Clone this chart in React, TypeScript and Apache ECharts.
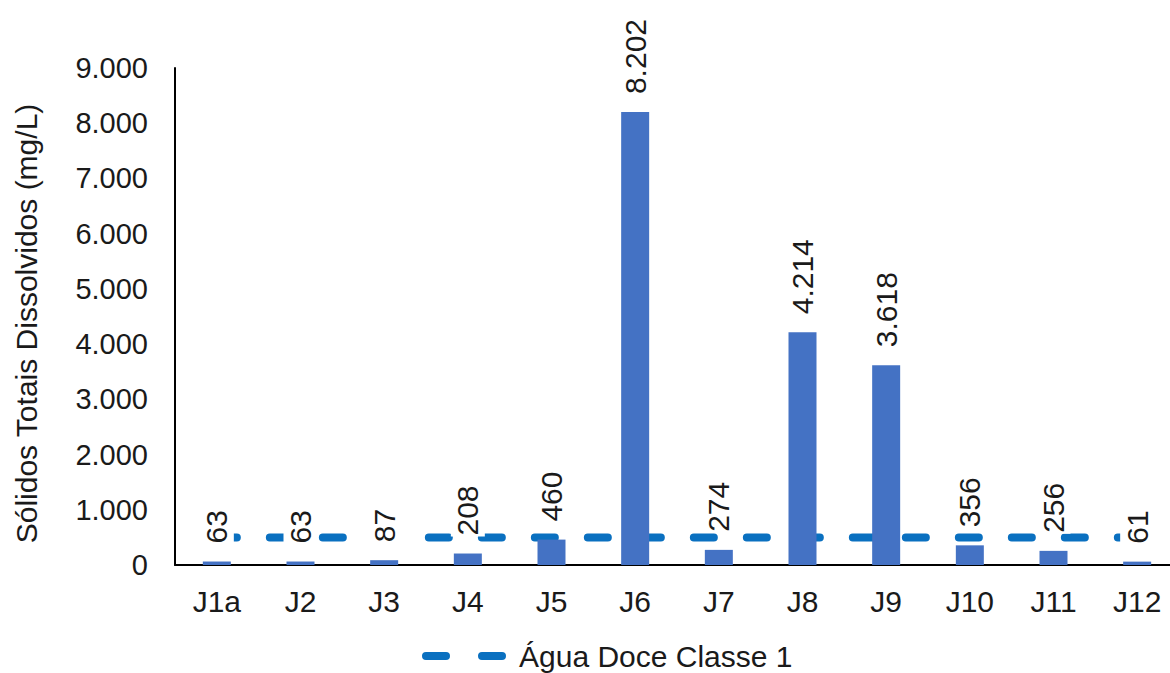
import React, { useEffect, useRef } from "react";
import * as echarts from "echarts";

const categories = ["J1a", "J2", "J3", "J4", "J5", "J6", "J7", "J8", "J9", "J10", "J11", "J12"];
const tdsValues = [63, 63, 87, 208, 460, 8202, 274, 4214, 3618, 356, 256, 61];
const limitValues = [500, 500, 500, 500, 500, 500, 500, 500, 500, 500, 500, 500];
const yMin = 0;
const yMax = 9000;
const yInterval = 1000;
const limitName = "Água Doce Classe 1";
const yTitle = "Sólidos Totais Dissolvidos (mg/L)";

const FONT = "'Liberation Sans', Arial, sans-serif";
const TEXT = "#1a1a1a";
const LIMIT_COLOR = "#0A70C0";

function fmt(v: number): string {
  return String(v).replace(/\B(?=(\d{3})+(?!\d))/g, ".");
}

export default function App() {
  const ref = useRef<HTMLDivElement>(null);
  useEffect(() => {
    if (!ref.current) return;
    const chart = echarts.init(ref.current, null, { renderer: "svg" });
    chart.setOption({
      animation: false,
      backgroundColor: "#ffffff",
      textStyle: { fontFamily: FONT },
      grid: {
        left: 175,
        top: 68,
        width: 1004,
        height: 497,
        containLabel: false,
        outerBoundsMode: "none",
      },
      legend: {
        data: [
          {
            name: limitName,
            itemStyle: { color: "rgba(0,0,0,0)", opacity: 0, borderWidth: 0 },
            lineStyle: {
              color: LIMIT_COLOR,
              width: 8,
              type: [20, 36],
              dashOffset: -4,
              cap: "round",
            },
          },
        ],
        left: 418,
        top: 641,
        padding: 0,
        itemWidth: 92,
        itemHeight: 10,
        itemGap: 12,
        textStyle: { fontSize: 30, color: TEXT, fontFamily: FONT },
      },
      xAxis: {
        type: "category",
        data: categories,
        axisLine: { show: true, lineStyle: { color: "#000", width: 2 } },
        axisTick: { show: false },
        axisLabel: { fontSize: 30, color: TEXT, margin: 21, fontFamily: FONT },
        splitLine: { show: false },
      },
      yAxis: {
        type: "value",
        min: yMin,
        max: yMax,
        interval: yInterval,
        name: yTitle,
        nameLocation: "middle",
        nameGap: 134,
        nameRotate: 90,
        nameTextStyle: { fontSize: 30, color: TEXT, fontFamily: FONT, padding: [0, 14, 0, 0] },
        axisLine: { show: true, lineStyle: { color: "#000", width: 2 } },
        axisTick: { show: false },
        splitLine: { show: false },
        axisLabel: {
          fontSize: 29,
          color: TEXT,
          margin: 27,
          fontFamily: FONT,
          formatter: (v: number) => fmt(v),
        },
      },
      series: [
        {
          name: "TDS",
          type: "bar",
          data: tdsValues,
          barWidth: 28,
          z: 3,
          itemStyle: { color: "#4472C4" },
          label: {
            show: true,
            position: "top",
            rotate: 90,
            align: "left",
            verticalAlign: "middle",
            distance: 17,
            fontSize: 30,
            color: TEXT,
            fontFamily: FONT,
            backgroundColor: "#ffffff",
            padding: [2, 1],
            formatter: (p: any) => fmt(p.value),
          },
        },
        {
          name: limitName,
          type: "line",
          data: limitValues,
          symbol: "none",
          z: 2,
          itemStyle: { color: LIMIT_COLOR },
          lineStyle: { color: LIMIT_COLOR, width: 8, type: [20, 33], cap: "round" },
        },
      ],
    });
    return () => chart.dispose();
  }, []);
  return (
    <div
      ref={ref}
      style={{ position: "fixed", left: 0, top: 0, width: 1170, height: 673, background: "#fff" }}
    />
  );
}
